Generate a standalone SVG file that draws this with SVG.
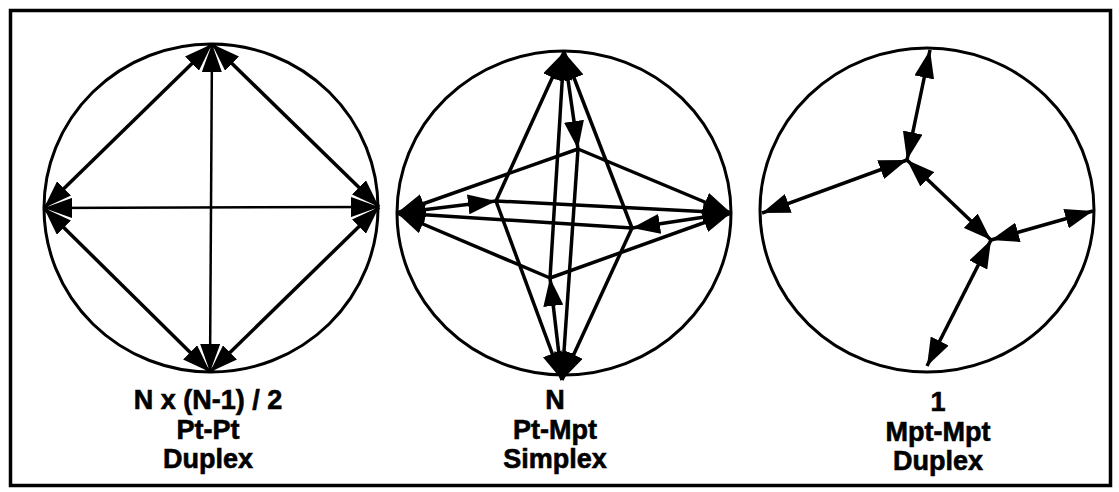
<svg xmlns="http://www.w3.org/2000/svg" width="1119" height="492" viewBox="0 0 1119 492">
<style>
.ring{fill:none;stroke:#000;stroke-width:3}
.ln{stroke:#000;stroke-width:3.5;fill:none}
.thin{stroke:#000;stroke-width:2.5;fill:none}
.lbl{font-family:"Liberation Sans",Arial,Helvetica,sans-serif;font-weight:bold;font-size:27px;fill:#000;stroke:#000;stroke-width:0.6;text-anchor:middle}
.d{marker-start:url(#ah);marker-end:url(#ah)}
.s{marker-end:url(#ah)}
</style>
<defs>
<marker id="ah" viewBox="0 0 28 20" refX="28" refY="10" markerWidth="28" markerHeight="20" markerUnits="userSpaceOnUse" orient="auto-start-reverse">
<path d="M0,0 L28,10 L0,20 Z" fill="#000"/>
</marker>
</defs>
<rect x="10.5" y="10.5" width="1100" height="475" fill="#fff" stroke="#000" stroke-width="3.5"/>
<g id="panel-ptpt">
<ellipse class="ring" cx="211" cy="208" rx="167" ry="164"/>
<text class="lbl" x="208" y="409">N x (N-1) / 2</text>
<text class="lbl" x="208" y="439">Pt-Pt</text>
<text class="lbl" x="208" y="468">Duplex</text>
</g>
<g id="panel-ptmpt">
<ellipse class="ring" cx="564" cy="213" rx="167" ry="162"/>
<text class="lbl" x="555" y="409">N</text>
<text class="lbl" x="555" y="439">Pt-Mpt</text>
<text class="lbl" x="555" y="468">Simplex</text>
</g>
<g id="panel-mptmpt">
<ellipse class="ring" cx="927" cy="210" rx="167" ry="162"/>
<text class="lbl" x="938" y="411">1</text>
<text class="lbl" x="938" y="441">Mpt-Mpt</text>
<text class="lbl" x="938" y="470">Duplex</text>
</g>
<g id="connectors">
<line class="thin d" x1="212" y1="44" x2="210" y2="372"/>
<line class="thin d" x1="44" y1="208" x2="379" y2="207"/>
<line class="ln d" x1="212" y1="44" x2="44" y2="208"/>
<line class="ln d" x1="212" y1="44" x2="379" y2="207"/>
<line class="ln d" x1="210" y1="372" x2="44" y2="208"/>
<line class="ln d" x1="210" y1="372" x2="379" y2="207"/>
<line class="ln s" x1="564" y1="52" x2="578" y2="149"/>
<line class="ln s" x1="578" y1="149" x2="397" y2="213"/>
<line class="ln s" x1="578" y1="149" x2="731" y2="213"/>
<line class="ln s" x1="578" y1="149" x2="562" y2="380"/>
<line class="ln s" x1="397" y1="213" x2="496" y2="201"/>
<line class="ln s" x1="496" y1="201" x2="564" y2="52"/>
<line class="ln s" x1="496" y1="201" x2="562" y2="380"/>
<line class="ln s" x1="496" y1="201" x2="731" y2="213"/>
<line class="ln s" x1="731" y1="213" x2="632" y2="228"/>
<line class="ln s" x1="632" y1="228" x2="564" y2="52"/>
<line class="ln s" x1="632" y1="228" x2="562" y2="380"/>
<line class="ln s" x1="632" y1="228" x2="397" y2="213"/>
<line class="ln s" x1="562" y1="380" x2="550" y2="278"/>
<line class="ln s" x1="550" y1="278" x2="397" y2="213"/>
<line class="ln s" x1="550" y1="278" x2="731" y2="213"/>
<line class="ln s" x1="550" y1="278" x2="564" y2="52"/>
<line class="ln d" x1="930" y1="50" x2="907" y2="160"/>
<line class="ln d" x1="762" y1="213" x2="907" y2="160"/>
<line class="ln d" x1="907" y1="160" x2="991" y2="240"/>
<line class="ln d" x1="1093" y1="211" x2="991" y2="240"/>
<line class="ln d" x1="927" y1="366" x2="991" y2="240"/>
</g>
</svg>
